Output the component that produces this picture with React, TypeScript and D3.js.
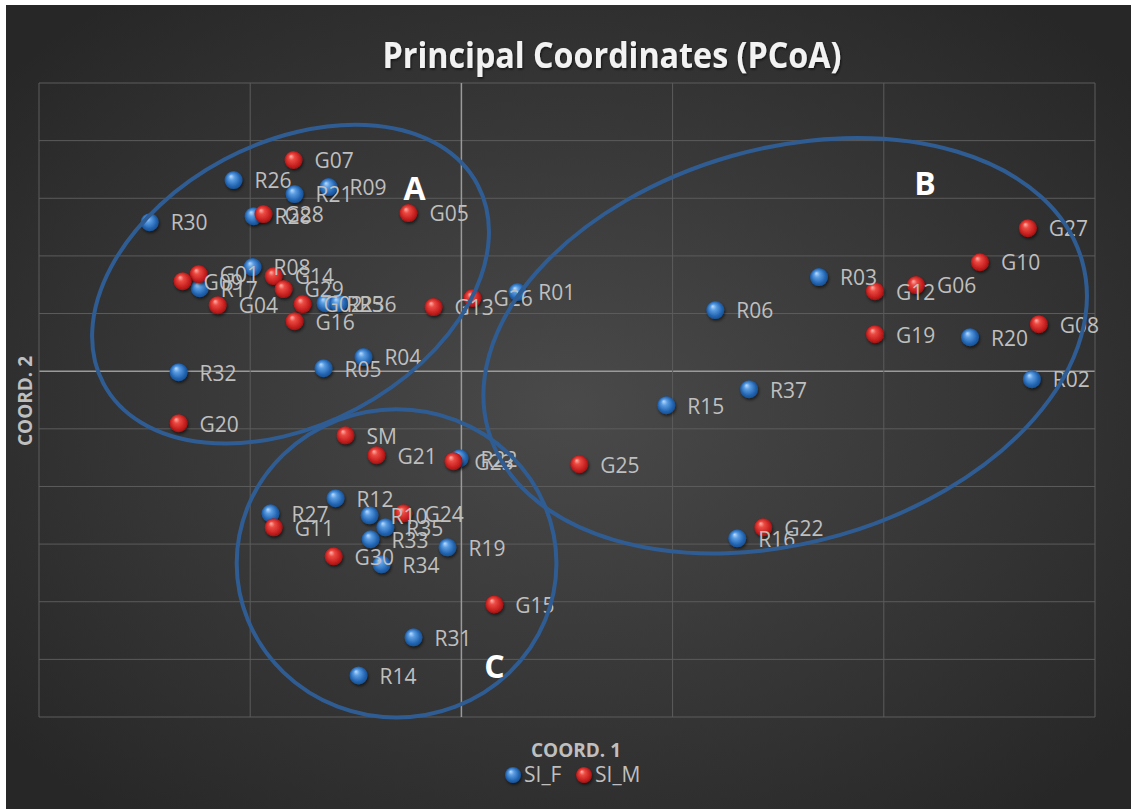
import * as d3 from "d3";

// PCoA scores (coord 1, coord 2)
const xTicks = [-0.2, -0.1, 0, 0.1, 0.2, 0.3];
const yTicks = [0.25, 0.2, 0.15, 0.1, 0.05, 0, -0.05, -0.1, -0.15, -0.2, -0.25, -0.3];

const siF: [string, number, number][] = [
  ["R26", -0.1079, 0.1658],
  ["R21", -0.079, 0.1536],
  ["R09", -0.0629, 0.1597],
  ["R30", -0.1476, 0.1293],
  ["R28", -0.0984, 0.1345],
  ["R08", -0.0989, 0.0903],
  ["R17", -0.1239, 0.072],
  ["R25", -0.0643, 0.059],
  ["R36", -0.0582, 0.059],
  ["R01", 0.0265, 0.0686],
  ["R04", -0.0464, 0.0122],
  ["R32", -0.1339, -0.0009],
  ["R05", -0.0653, 0.0026],
  ["R22", -0.0009, -0.0755],
  ["R12", -0.0596, -0.1102],
  ["R27", -0.0904, -0.1233],
  ["R10", -0.0435, -0.125],
  ["R35", -0.036, -0.1354],
  ["R33", -0.043, -0.1458],
  ["R34", -0.0378, -0.1675],
  ["R19", -0.0066, -0.1528],
  ["R31", -0.0227, -0.2309],
  ["R14", -0.0487, -0.2639],
  ["R03", 0.1693, 0.0816],
  ["R06", 0.1202, 0.053],
  ["R20", 0.2408, 0.0295],
  ["R02", 0.2701, -0.0069],
  ["R37", 0.1362, -0.0156],
  ["R15", 0.097, -0.0295],
  ["R16", 0.1306, -0.145],
];

const siM: [string, number, number][] = [
  ["G07", -0.0795, 0.1832],
  ["G28", -0.0937, 0.1363],
  ["G05", -0.0251, 0.1372],
  ["G01", -0.1244, 0.0842],
  ["G09", -0.132, 0.0781],
  ["G14", -0.0889, 0.0825],
  ["G29", -0.0842, 0.0712],
  ["G04", -0.1154, 0.0573],
  ["G02", -0.0752, 0.0582],
  ["G16", -0.079, 0.0434],
  ["G13", -0.0132, 0.0556],
  ["G26", 0.0052, 0.0634],
  ["G20", -0.1339, -0.0451],
  ["SM", -0.0549, -0.0556],
  ["G21", -0.0402, -0.0729],
  ["G23", -0.0038, -0.0781],
  ["G25", 0.0558, -0.0807],
  ["G24", -0.0274, -0.1233],
  ["G11", -0.0889, -0.1354],
  ["G30", -0.0605, -0.1606],
  ["G15", 0.0156, -0.2023],
  ["G22", 0.1429, -0.1354],
  ["G27", 0.2682, 0.1241],
  ["G10", 0.2455, 0.0946],
  ["G12", 0.1958, 0.0694],
  ["G06", 0.2152, 0.0747],
  ["G08", 0.2734, 0.0408],
  ["G19", 0.1958, 0.0321],
];

// group outlines: centre, radii (data units), tilt in degrees, letter position
const groupNames = ["A", "B", "C"];
const groupShapes = [
  { cx: -0.0809, cy: 0.0755, rx: 0.1003, ry: 0.1224, angle: -28, lx: -0.0222, ly: 0.158 },
  { cx: 0.1533, cy: 0.0221, rx: 0.1462, ry: 0.171, angle: -16, lx: 0.2195, ly: 0.1623 },
  { cx: -0.0307, cy: -0.1667, rx: 0.0757, ry: 0.1337, angle: 0, lx: 0.0156, ly: -0.2561 },
];

const W = 1131;
const H = 809;
const plot = { left: 39, right: 1095, top: 83, bottom: 717 };
const labelColor = "#bfbfbf";

export default function App() {
  const x = d3.scaleLinear().domain([-0.2, 0.3]).range([plot.left, plot.right]);
  const y = d3.scaleLinear().domain([-0.3, 0.25]).range([plot.bottom, plot.top]);

  const ball = (key: string, px: number, py: number, id: string, r = 9) => (
    <circle key={key} cx={px} cy={py} r={r} fill={`url(#${id})`} filter="url(#shadow)" />
  );

  const label = (key: string, name: string, px: number, py: number) => (
    <text key={key} x={px + 21} y={py + 1} dy="0.35em" fill={labelColor} fontSize={21}>
      {name}
    </text>
  );

  return (
    <svg
      width={W}
      height={H}
      style={{ position: "absolute", left: 0, top: 0 }}
      fontFamily="'Open Sans', 'DejaVu Sans', sans-serif"
    >
      <defs>
        <radialGradient id="bg" cx="50%" cy="50%" r="65%">
          <stop offset="0%" stopColor="#4a4a4a" />
          <stop offset="100%" stopColor="#272727" />
        </radialGradient>
        <radialGradient id="ballBlue" cx="50%" cy="50%" r="55%" fx="35%" fy="28%">
          <stop offset="0%" stopColor="#bcdcff" />
          <stop offset="30%" stopColor="#5b9de2" />
          <stop offset="75%" stopColor="#2163b0" />
          <stop offset="100%" stopColor="#174a88" />
        </radialGradient>
        <radialGradient id="ballRed" cx="50%" cy="50%" r="55%" fx="35%" fy="28%">
          <stop offset="0%" stopColor="#ffb4ac" />
          <stop offset="30%" stopColor="#ec4a42" />
          <stop offset="75%" stopColor="#c41e1e" />
          <stop offset="100%" stopColor="#8c1111" />
        </radialGradient>
        <filter id="shadow" x="-50%" y="-50%" width="200%" height="200%">
          <feDropShadow dx="1" dy="2" stdDeviation="1.5" floodColor="#000" floodOpacity="0.55" />
        </filter>
        <filter id="textShadow" x="-10%" y="-30%" width="120%" height="160%">
          <feDropShadow dx="1" dy="1.5" stdDeviation="1" floodColor="#000" floodOpacity="0.6" />
        </filter>
      </defs>

      <rect width={W} height={H} fill="#ffffff" />
      <rect x={6} y={5} width={W - 6} height={H - 5} fill="url(#bg)" />

      {/* gridlines */}
      {yTicks.map((t) => (
        <line
          key={`gy${t}`}
          x1={plot.left}
          x2={plot.right}
          y1={y(t)}
          y2={y(t)}
          stroke={t === 0 ? "#9a9a9a" : "#5c5c5c"}
          strokeWidth={t === 0 ? 1.5 : 1}
        />
      ))}
      {xTicks.map((t) => (
        <line
          key={`gx${t}`}
          x1={x(t)}
          x2={x(t)}
          y1={plot.top}
          y2={plot.bottom}
          stroke={t === 0 ? "#9a9a9a" : "#5c5c5c"}
          strokeWidth={t === 0 ? 1.5 : 1}
        />
      ))}

      {/* title */}
      <text
        x={612}
        y={68}
        textAnchor="middle"
        fill="#f2f2f2"
        fontSize={35}
        fontWeight={700}
        textLength={459}
        lengthAdjust="spacingAndGlyphs"
        filter="url(#textShadow)"
      >
        Principal Coordinates (PCoA)
      </text>

      {/* markers */}
      {siF.map(([n, vx, vy]) => ball(`bf${n}`, x(vx), y(vy), "ballBlue"))}
      {siM.map(([n, vx, vy]) => ball(`bm${n}`, x(vx), y(vy), "ballRed"))}

      {/* data labels */}
      {siF.map(([n, vx, vy]) => label(`lf${n}`, n, x(vx), y(vy)))}
      {siM.map(([n, vx, vy]) => label(`lm${n}`, n, x(vx), y(vy)))}

      {/* group outlines */}
      {groupShapes.map((g, i) => {
        const cx = x(g.cx);
        const cy = y(g.cy);
        const rx = x(g.rx) - x(0);
        const ry = y(0) - y(g.ry);
        return (
          <g key={groupNames[i]}>
            <ellipse
              cx={cx}
              cy={cy}
              rx={rx}
              ry={ry}
              transform={`rotate(${g.angle} ${cx} ${cy})`}
              fill="none"
              stroke="#2f5d93"
              strokeWidth={4}
            />
            <text
              x={x(g.lx)}
              y={y(g.ly)}
              dy="0.35em"
              textAnchor="middle"
              fill="#ffffff"
              fontSize={32}
              fontWeight={700}
            >
              {groupNames[i]}
            </text>
          </g>
        );
      })}

      {/* axis titles */}
      <text x={576} y={750} dy="0.35em" textAnchor="middle" fill={labelColor} fontSize={19} fontWeight={700}>
        COORD. 1
      </text>
      <text
        transform="translate(25,401) rotate(-90)"
        dy="0.35em"
        textAnchor="middle"
        fill={labelColor}
        fontSize={19}
        fontWeight={700}
      >
        COORD. 2
      </text>

      {/* legend */}
      {ball("lgF", 513, 775, "ballBlue", 8)}
      <text x={524} y={775} dy="0.35em" fill={labelColor} fontSize={21}>
        SI_F
      </text>
      {ball("lgM", 584, 775, "ballRed", 8)}
      <text x={595} y={775} dy="0.35em" fill={labelColor} fontSize={21}>
        SI_M
      </text>
    </svg>
  );
}
